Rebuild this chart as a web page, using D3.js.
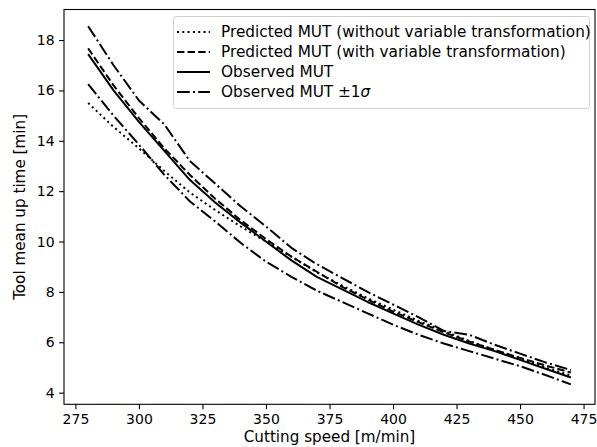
<!DOCTYPE html>
<html><head><meta charset="utf-8">
<script src="https://cdn.jsdelivr.net/npm/d3@7"></script>
<style>body{margin:0;background:#fff}svg{display:block}text{font-family:"DejaVu Sans",sans-serif;fill:#000}</style>
</head><body><svg id="c" width="597" height="447"></svg>
<script>
const speeds = [280,290,300,310,320,330,340,350,360,370,380,390,400,410,420,430,440,450,460,470];
const predNoTransform = [15.5,14.55,13.7,12.8,11.95,11.25,10.6,10.0,9.4,8.78,8.25,7.75,7.3,6.85,6.45,6.05,5.7,5.35,5.0,4.68];
const predTransform = [17.67,16.2,14.9,13.7,12.65,11.7,10.85,10.1,9.4,8.8,8.2,7.7,7.22,6.8,6.4,6.03,5.7,5.38,5.08,4.8];
const observed = [17.44,16.0,14.75,13.6,12.45,11.55,10.75,10.0,9.25,8.6,8.1,7.6,7.15,6.7,6.3,5.95,5.65,5.3,4.95,4.6];
const obsPlusSigma = [18.55,17.0,15.6,14.65,13.2,12.3,11.4,10.6,9.75,9.1,8.55,8.0,7.5,7.0,6.45,6.3,5.9,5.55,5.2,4.9];
const obsMinusSigma = [16.25,15.0,13.85,12.65,11.6,10.8,9.95,9.2,8.6,8.05,7.6,7.15,6.7,6.3,5.95,5.65,5.35,5.05,4.7,4.33];
const xTicks = [275,300,325,350,375,400,425,450,475];
const yTicks = [4,6,8,10,12,14,16,18];
const seriesNames = ["Predicted MUT (without variable transformation)","Predicted MUT (with variable transformation)","Observed MUT","Observed MUT \u00b11"];

const svg = d3.select("#c");
const L=64, R=595, T=9.5, B=404.3;
const x = d3.scaleLinear().domain([270.5,479.5]).range([L,R]);
const y = d3.scaleLinear().domain([3.5375,19.2125]).range([B,T]);

const dashes = {dotted:"2,3.3", dashed:"7.4,3.2", solid:null, dashdot:"12.8,3.2,2,3.2"};
const series = [
  {vals:predNoTransform, dash:dashes.dotted},
  {vals:predTransform, dash:dashes.dashed},
  {vals:observed, dash:dashes.solid},
  {vals:obsPlusSigma, dash:dashes.dashdot},
  {vals:obsMinusSigma, dash:dashes.dashdot}
];
const line = d3.line().x((d,i)=>x(speeds[i])).y(d=>y(d));
const g = svg.append("g");
series.forEach(s=>{
  g.append("path").attr("d",line(s.vals)).attr("fill","none").attr("stroke","#000")
   .attr("stroke-width",2).attr("stroke-dasharray",s.dash).attr("stroke-linejoin","round");
});

// axes
const xa = svg.append("g").attr("transform",`translate(0,${B})`)
  .call(d3.axisBottom(x).tickValues(xTicks).tickSize(4.9).tickPadding(4.5).tickFormat(d3.format("d")));
const ya = svg.append("g").attr("transform",`translate(${L},0)`)
  .call(d3.axisLeft(y).tickValues(yTicks).tickSize(4.9).tickPadding(4.5).tickFormat(d3.format("d")));
[xa,ya].forEach(a=>{a.select(".domain").remove();a.selectAll("line").attr("stroke","#000").attr("stroke-width",1.1);
  a.selectAll("text").style("font-size","14px").style("font-family","DejaVu Sans");});
svg.append("rect").attr("x",L).attr("y",T).attr("width",R-L).attr("height",B-T)
  .attr("fill","none").attr("stroke","#000").attr("stroke-width",1.1);

svg.append("text").attr("x",(L+R)/2).attr("y",442).attr("text-anchor","middle")
  .style("font-size","15.2px").text("Cutting speed [m/min]");
svg.append("text").attr("transform",`translate(25,${(T+B)/2}) rotate(-90)`).attr("text-anchor","middle")
  .style("font-size","15.2px").text("Tool mean up time [min]");

// legend
const lg = svg.append("g");
lg.append("rect").attr("x",173.5).attr("y",16.5).attr("width",416).attr("height",92).attr("rx",3)
  .attr("fill","#fff").attr("fill-opacity",0.8).attr("stroke","#d0d0d0").attr("stroke-width",1);
const legDash=[dashes.dotted,dashes.dashed,dashes.solid,dashes.dashdot];
seriesNames.forEach((n,i)=>{
  const yy = 32+i*20;
  lg.append("line").attr("x1",177).attr("x2",210).attr("y1",yy).attr("y2",yy)
    .attr("stroke","#000").attr("stroke-width",2).attr("stroke-dasharray",legDash[i]);
  const t = lg.append("text").attr("x",221).attr("y",yy+5.4).style("font-size","15.3px").text(n);
  if (i===3) t.append("tspan").style("font-style","italic").text("\u03c3");
});
</script></body></html>
